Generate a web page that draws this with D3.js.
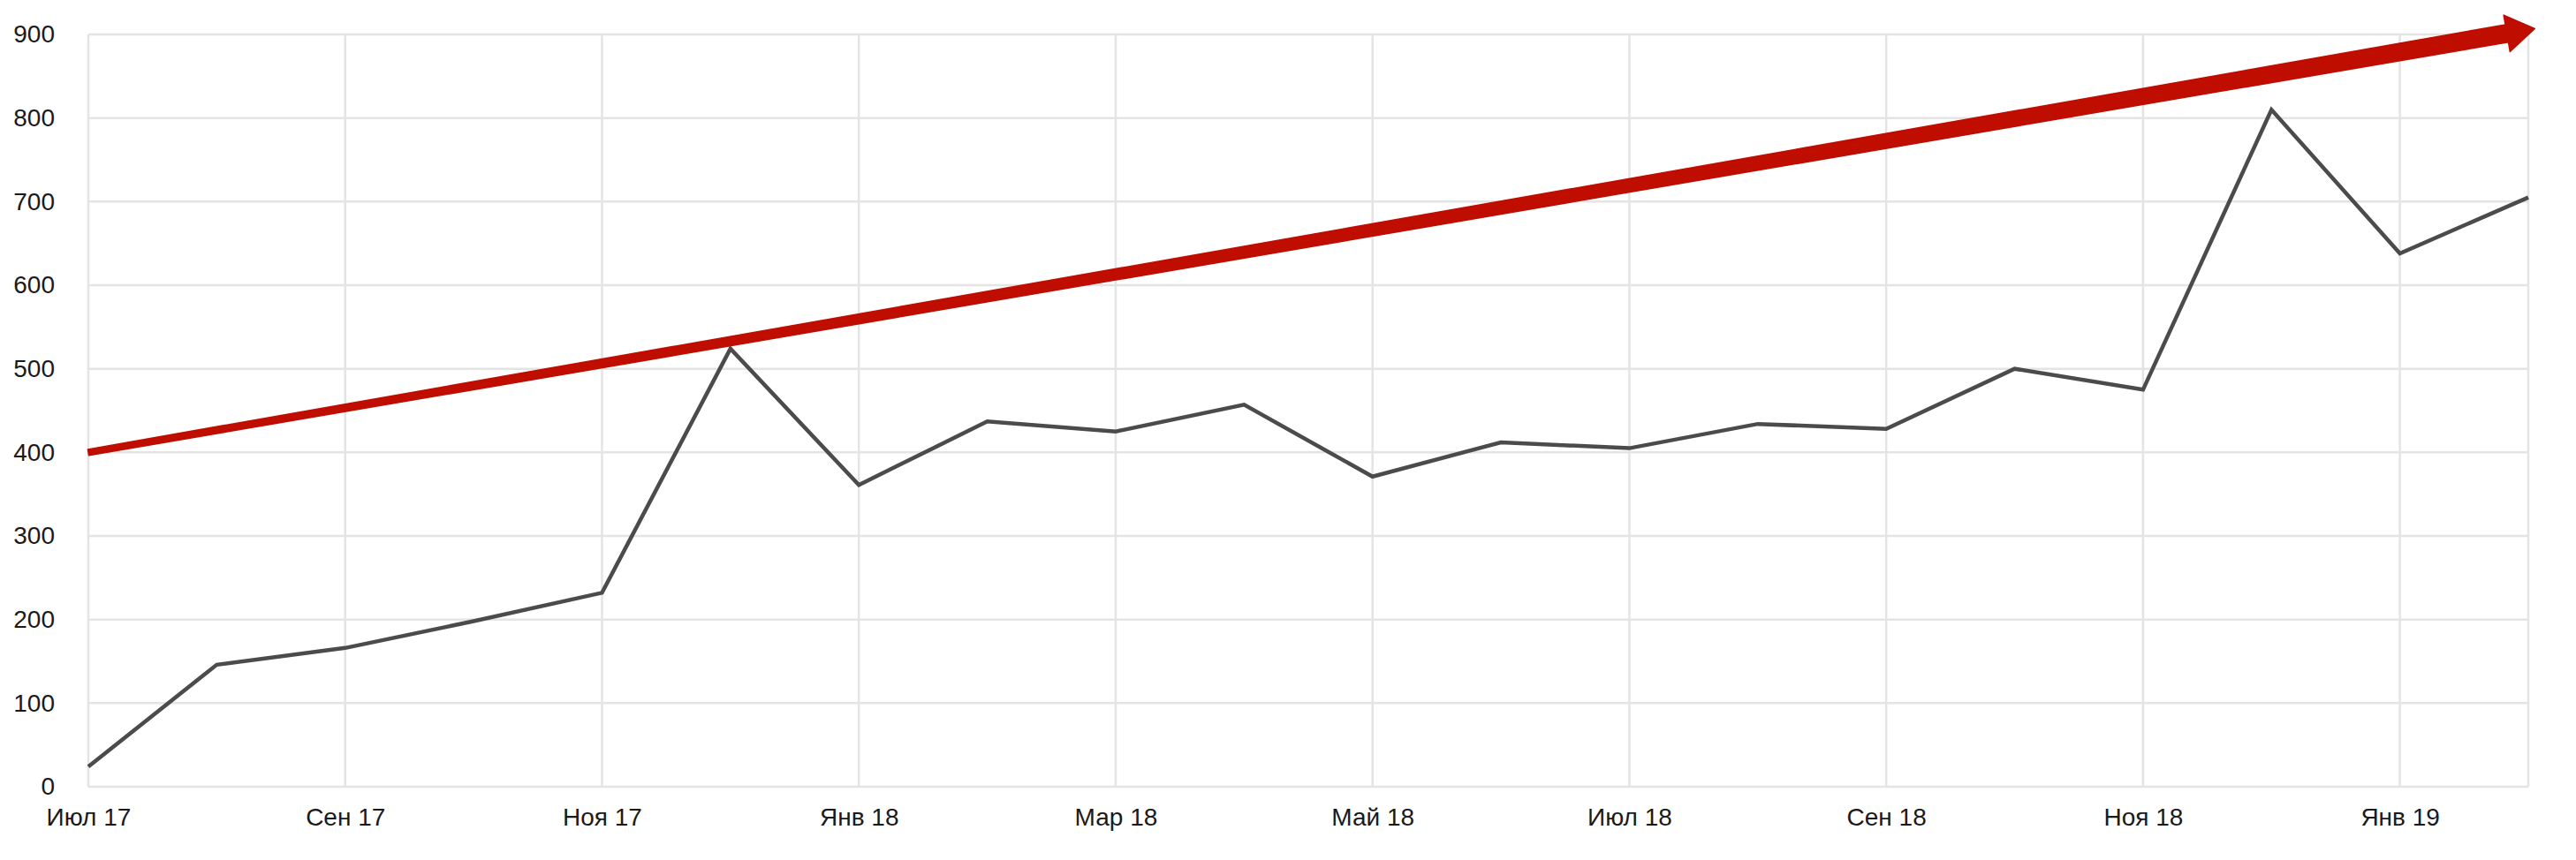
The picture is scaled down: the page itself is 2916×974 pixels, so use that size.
<!DOCTYPE html>
<head>
<meta charset="utf-8">
<script src="https://d3js.org/d3.v7.min.js"></script>
<style>
    body { margin: 0; background: #fff; }
    #container { width: 2916px; height: 974px; }
    .tick text { font-family: "Liberation Sans", Arial, sans-serif; font-size: 28px; fill: #1a1a1a; }
</style>
</head>
<body>
    <div id="container"></div>
<script>
    // месяцы по оси X
    var months = ["Июл 17","Авг 17","Сен 17","Окт 17","Ноя 17","Дек 17",
                  "Янв 18","Фев 18","Мар 18","Апр 18","Май 18","Июн 18",
                  "Июл 18","Авг 18","Сен 18","Окт 18","Ноя 18","Дек 18",
                  "Янв 19","Фев 19"];
    var values = [24, 146, 166, 198, 232, 524, 361, 437, 425, 457,
                  371, 412, 405, 434, 428, 500, 475, 810, 638, 705];
    var yTicks = [0, 100, 200, 300, 400, 500, 600, 700, 800, 900];
    // стрелка тренда: [индекс месяца, значение]
    var trendStart = [0, 400];
    var trendEnd = [19.05, 907];

    var width = 2916, height = 974;
    var pLeft = 100, pRight = 2862, pTop = 39, pBottom = 891;

    var svg = d3.select("#container").append("svg").attr("width", width).attr("height", height);

    var x = d3.scaleLinear().domain([0, months.length - 1]).range([pLeft, pRight]);
    var y = d3.scaleLinear().domain([0, 900]).range([pBottom, pTop]);

    var gridColor = "#e4e4e4";

    // горизонтальная сетка
    svg.append("g").selectAll("line").data(yTicks).enter().append("line")
        .attr("x1", pLeft).attr("x2", pRight)
        .attr("y1", d => y(d)).attr("y2", d => y(d))
        .attr("stroke", gridColor).attr("stroke-width", 2.5);

    // вертикальная сетка каждые 2 месяца + правая граница
    var vLines = d3.range(0, months.length, 2).concat([months.length - 1]);
    svg.append("g").selectAll("line").data(vLines).enter().append("line")
        .attr("x1", d => x(d)).attr("x2", d => x(d))
        .attr("y1", pTop).attr("y2", pBottom)
        .attr("stroke", gridColor).attr("stroke-width", 2.5);

    // оси
    var yAxis = d3.axisLeft(y).tickValues(yTicks).tickSize(0).tickPadding(38);
    svg.append("g").attr("transform", "translate(" + pLeft + ",0)").call(yAxis)
        .call(g => g.select(".domain").remove());

    var xAxis = d3.axisBottom(x).tickValues(d3.range(0, months.length, 2))
        .tickFormat(i => months[i]).tickSize(0).tickPadding(24);
    svg.append("g").attr("transform", "translate(0," + pBottom + ")").call(xAxis)
        .call(g => g.select(".domain").remove());

    // линия данных
    var line = d3.line().x((d, i) => x(i)).y(d => y(d));
    svg.append("path").datum(values)
        .attr("d", line)
        .attr("fill", "none")
        .attr("stroke", "#4b4b4b")
        .attr("stroke-width", 4.5)
        .attr("stroke-linejoin", "miter");

    // стрелка тренда (сужающаяся)
    var p0 = [x(trendStart[0]), y(trendStart[1])];
    var p1 = [x(trendEnd[0]), y(trendEnd[1])];
    var dx = p1[0] - p0[0], dy = p1[1] - p0[1];
    var len = Math.sqrt(dx * dx + dy * dy);
    var ux = dx / len, uy = dy / len, nx = -uy, ny = ux;
    var headLen = 32, headW = 21, w0 = 3.5, w1 = 10;
    var hb = [p1[0] - ux * headLen, p1[1] - uy * headLen];
    var pts = [
        [p0[0] + nx * w0, p0[1] + ny * w0],
        [hb[0] + nx * w1, hb[1] + ny * w1],
        [hb[0] + nx * headW, hb[1] + ny * headW],
        p1,
        [hb[0] - nx * headW, hb[1] - ny * headW],
        [hb[0] - nx * w1, hb[1] - ny * w1],
        [p0[0] - nx * w0, p0[1] - ny * w0]
    ];
    svg.append("path")
        .attr("d", d3.line()(pts) + "Z")
        .attr("fill", "#bf0d00")
        .attr("stroke", "#bf0d00")
        .attr("stroke-width", 1.5)
        .attr("stroke-linejoin", "round");
</script>
</body>
